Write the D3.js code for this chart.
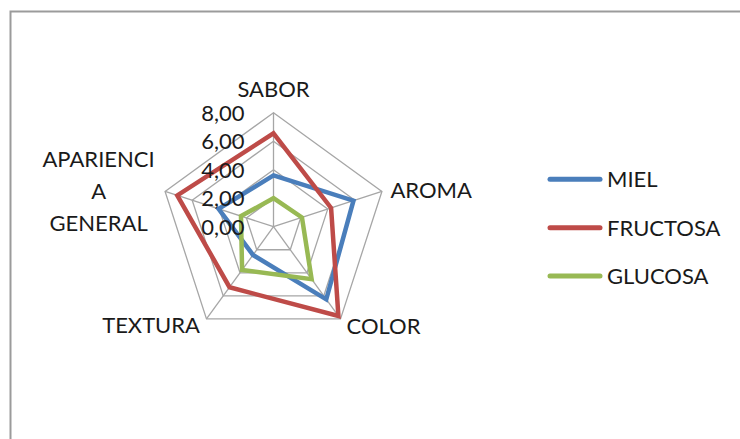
<!DOCTYPE html>
<html>
<head>
<meta charset="utf-8">
<script src="https://cdn.jsdelivr.net/npm/d3@7/dist/d3.min.js"></script>
<style>
  html, body { margin: 0; padding: 0; background: #fff; }
  svg { display: block; }
  text { font-family: Lato, "Open Sans", sans-serif; fill: #1a1a1a; }
</style>
</head>
<body>
<svg id="chart" width="740" height="439"></svg>
<script>
// Sensory attributes (clockwise from the top)
const axes = ["SABOR", "AROMA", "COLOR", "TEXTURA", "APARIENCIA GENERAL"];
// Mean scores per sweetener
const miel     = [3.60, 5.90, 6.30, 2.45, 4.05];
const fructosa = [6.55, 4.25, 7.75, 5.25, 7.10];
const glucosa  = [2.00, 2.10, 4.55, 3.75, 2.40];
const seriesNames = ["MIEL", "FRUCTOSA", "GLUCOSA"];
const tickValues = [0, 2, 4, 6, 8];
const tickLabels = ["0,00", "2,00", "4,00", "6,00", "8,00"];

const series = [
  { name: seriesNames[0], values: miel,     color: "#4a7ebb" },
  { name: seriesNames[1], values: fructosa, color: "#be4b48" },
  { name: seriesNames[2], values: glucosa,  color: "#98b954" }
];

const svg = d3.select("#chart");
const cx = 273.5, cy = 226.7;

// outer frame of the chart area
svg.append("path")
  .attr("d", "M10.5,439 L10.5,11.5 L740,11.5")
  .attr("fill", "none").attr("stroke", "#9b9b9b").attr("stroke-width", 2);

const r = d3.scaleLinear().domain([0, 8]).range([0, 114]);
const angle = d3.scaleLinear().domain([0, axes.length]).range([0, 2 * Math.PI]);
const pt = (i, v) => [cx + r(v) * Math.sin(angle(i)), cy - r(v) * Math.cos(angle(i))];

const g = svg.append("g");

// grid rings
const ringLine = d3.line().curve(d3.curveLinearClosed);
tickValues.filter(t => t > 0).forEach(t => {
  g.append("path")
    .attr("d", ringLine(axes.map((a, i) => pt(i, t))))
    .attr("fill", "none").attr("stroke", "#a6a6a6").attr("stroke-width", 1.3);
});
// spokes
axes.forEach((a, i) => {
  const [x, y] = pt(i, 8);
  g.append("line")
    .attr("x1", cx).attr("y1", cy).attr("x2", x).attr("y2", y)
    .attr("stroke", "#a6a6a6").attr("stroke-width", 1.3);
});

// series polygons
const radial = d3.lineRadial()
  .angle((d, i) => angle(i))
  .radius(d => r(d))
  .curve(d3.curveLinearClosed);
series.forEach(s => {
  g.append("path")
    .attr("transform", `translate(${cx},${cy})`)
    .attr("d", radial(s.values))
    .attr("fill", "none")
    .attr("stroke", s.color)
    .attr("stroke-width", 4.5)
    .attr("stroke-linejoin", "miter");
});

// value tick labels along the vertical spoke
tickValues.forEach((t, k) => {
  g.append("text")
    .attr("x", cx - 29)
    .attr("y", cy - r(t))
    .attr("dy", "0.36em")
    .attr("text-anchor", "end")
    .attr("font-size", 22)
    .text(tickLabels[k]);
});

// category labels
const fs = 22;
function axisLabel(i, dx, dy, anchor, lines) {
  const [x, y] = pt(i, 8);
  const t = g.append("text")
    .attr("x", x + dx).attr("y", y + dy)
    .attr("text-anchor", anchor)
    .attr("font-size", fs);
  lines.forEach((ln, k) => {
    t.append("tspan").attr("x", x + dx).attr("y", y + dy + k * 32).text(ln);
  });
}
axisLabel(0, 0, -16, "middle", [axes[0]]);
axisLabel(1, 8.5, 6.5, "start", [axes[1]]);
axisLabel(2, 6, 15, "start", [axes[2]]);
axisLabel(3, -6.5, 14.5, "end", [axes[3]]);
axisLabel(4, -66.5, -24.5, "middle", ["APARIENCI", "A", "GENERAL"]);

// legend
const legend = svg.append("g");
const ly = d3.scalePoint().domain(seriesNames).range([179.3, 276]);
series.forEach(s => {
  legend.append("line")
    .attr("x1", 550).attr("x2", 600)
    .attr("y1", ly(s.name)).attr("y2", ly(s.name))
    .attr("stroke", s.color).attr("stroke-width", 5)
    .attr("stroke-linecap", "round");
  legend.append("text")
    .attr("x", 607).attr("y", ly(s.name) + 8)
    .attr("font-size", fs)
    .text(s.name);
});
</script>
</body>
</html>
